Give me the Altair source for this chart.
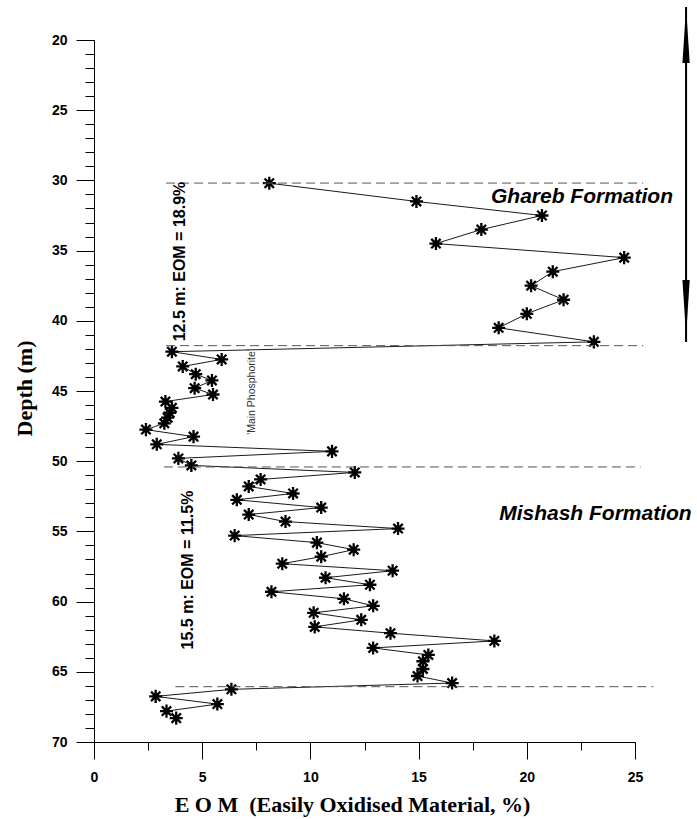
import altair as alt
import pandas as pd

# ---- data ----
depth = [30.2, 31.5, 32.5, 33.5, 34.5, 35.5, 36.5, 37.5, 38.5, 39.5, 40.5, 41.5,
         42.2, 42.75, 43.25, 43.8, 44.25, 44.8, 45.25, 45.75, 46.2, 46.55, 46.9, 47.3,
         47.75, 48.25, 48.8, 49.3, 49.8, 50.3, 50.8, 51.3, 51.8, 52.3, 52.75, 53.3,
         53.8, 54.3, 54.8, 55.3, 55.8, 56.3, 56.8, 57.3, 57.8, 58.3, 58.8, 59.3,
         59.8, 60.3, 60.8, 61.3, 61.8, 62.25, 62.8, 63.3, 63.8, 64.25, 64.8, 65.3,
         65.8, 66.25, 66.75, 67.3, 67.8, 68.3]
eom = [8.1, 14.9, 20.7, 17.9, 15.8, 24.5, 21.2, 20.2, 21.7, 20.0, 18.7, 23.1,
       3.6, 5.9, 4.1, 4.7, 5.45, 4.65, 5.5, 3.3, 3.6, 3.5, 3.4, 3.25,
       2.4, 4.6, 2.9, 11.0, 3.9, 4.5, 12.05, 7.7, 7.15, 9.2, 6.6, 10.5,
       7.15, 8.85, 14.05, 6.5, 10.3, 12.0, 10.5, 8.7, 13.8, 10.7, 12.75, 8.2,
       11.55, 12.9, 10.15, 12.35, 10.2, 13.7, 18.5, 12.9, 15.45, 15.2, 15.2, 14.95,
       16.55, 6.35, 2.85, 5.7, 3.35, 3.8]

# formation boundaries (dashed lines)
bound_depth = [30.19, 41.77, 50.41, 66.06]
bound_x0 = [3.33, 3.33, 3.23, 3.76]
bound_x1 = [25.38, 25.38, 25.26, 25.85]

# annotations
form_names = ["Ghareb Formation", "Mishash Formation"]
form_x = [22.55, 23.17]
form_y = [31.18, 53.76]

avg_texts = ["12.5 m: EOM = 18.9%", "15.5 m: EOM = 11.5%"]
avg_x = [3.97, 4.34]
avg_y = [35.78, 57.75]

note_text = ["'Main Phosphorite'"]
note_x = [7.30]
note_y = [45.07]

# double-headed arrow at right
arrow_x = [27.36]
arrow_top = [17.65]
arrow_bottom = [41.51]
head_up_y = [19.64]
head_down_y = [39.09]

x_ticks = [0, 5, 10, 15, 20, 25]
x_minor = [0, 2.5, 5, 7.5, 10, 12.5, 15, 17.5, 20, 22.5, 25]
y_ticks = [20, 25, 30, 35, 40, 45, 50, 55, 60, 65, 70]
y_minor = list(range(20, 71))

# ---- frames ----
df = pd.DataFrame({"depth": depth, "eom": eom, "idx": list(range(len(depth)))})
bounds = pd.DataFrame({"d": bound_depth, "x0": bound_x0, "x1": bound_x1})
forms = pd.DataFrame({"t": form_names, "x": form_x, "y": form_y})
avgs = pd.DataFrame({"t": avg_texts, "x": avg_x, "y": avg_y})
notes = pd.DataFrame({"t": note_text, "x": note_x, "y": note_y})
arrow = pd.DataFrame({"x": arrow_x, "y0": arrow_top, "y1": arrow_bottom})
head_up = pd.DataFrame({"x": arrow_x, "y": head_up_y})
head_down = pd.DataFrame({"x": arrow_x, "y": head_down_y})

xs = alt.Scale(domain=[0, 25], nice=False, zero=False)
ys = alt.Scale(domain=[20, 70], nice=False, zero=False, reverse=True)

LAB = "Liberation Sans"
SER = "Liberation Serif"

x_major = alt.Axis(values=x_ticks, tickSize=17, tickColor="black", tickWidth=1,
                   domainColor="black", domainWidth=1, grid=False,
                   labelFont=LAB, labelFontSize=14, labelFontWeight="bold",
                   labelColor="black", labelPadding=11, labelFlush=False,
                   title="E O M\u00a0\u00a0(Easily Oxidised Material, %)",
                   titleFont=SER, titleFontSize=22, titleFontWeight="bold",
                   titleColor="black", titleX=258, titleY=69,
                   titleAlign="center", titleBaseline="alphabetic")
y_major = alt.Axis(values=y_ticks, tickSize=18, tickColor="black", tickWidth=1,
                   domainColor="black", domainWidth=1, grid=False,
                   labelFont=LAB, labelFontSize=14, labelFontWeight="bold",
                   labelColor="black", labelPadding=9, labelFlush=False,
                   title="Depth (m)", titleFont=SER, titleFontSize=22,
                   titleFontWeight="bold", titleColor="black", titleAngle=270,
                   titleX=-63, titleY=348, titleAlign="center",
                   titleBaseline="alphabetic")
x_min_ax = alt.Axis(values=x_minor, tickSize=8, tickColor="black", tickWidth=1,
                    domain=False, labels=False, grid=False, title=None,
                    orient="bottom")
y_min_ax = alt.Axis(values=y_minor, tickSize=9, tickColor="black", tickWidth=1,
                    domain=False, labels=False, grid=False, title=None,
                    orient="left")

line = alt.Chart(df).mark_line(color="black", strokeWidth=0.9).encode(
    x=alt.X("eom:Q", scale=xs, axis=x_major),
    y=alt.Y("depth:Q", scale=ys, axis=y_major),
    order="idx:Q",
)

star = "M-1,0L1,0M0,-1L0,1M-0.72,-0.72L0.72,0.72M-0.72,0.72L0.72,-0.72"
points = alt.Chart(df).mark_point(shape=star, size=170, filled=False,
                                  stroke="black", strokeWidth=2.3,
                                  opacity=1).encode(
    x=alt.X("eom:Q", scale=xs, axis=x_min_ax),
    y=alt.Y("depth:Q", scale=ys, axis=y_min_ax),
)

dashes = alt.Chart(bounds).mark_rule(color="#555555", strokeWidth=1,
                                     strokeDash=[9, 5]).encode(
    x=alt.X("x0:Q", scale=xs, axis=None),
    x2="x1:Q",
    y=alt.Y("d:Q", scale=ys, axis=None),
)

form_text = alt.Chart(forms).mark_text(font=LAB, fontSize=21, fontWeight="bold",
                                       fontStyle="italic", color="black",
                                       align="center", baseline="middle").encode(
    x=alt.X("x:Q", scale=xs, axis=None),
    y=alt.Y("y:Q", scale=ys, axis=None),
    text="t:N",
)

avg_text = alt.Chart(avgs).mark_text(font=LAB, fontSize=16, fontWeight="bold",
                                     color="black", angle=270, align="center",
                                     baseline="middle").encode(
    x=alt.X("x:Q", scale=xs, axis=None),
    y=alt.Y("y:Q", scale=ys, axis=None),
    text="t:N",
)

note = alt.Chart(notes).mark_text(font=LAB, fontSize=10.5, color="#333333",
                                  angle=270, align="center",
                                  baseline="middle").encode(
    x=alt.X("x:Q", scale=xs, axis=None),
    y=alt.Y("y:Q", scale=ys, axis=None),
    text="t:N",
)

arrow_line = alt.Chart(arrow).mark_rule(color="black", strokeWidth=2).encode(
    x=alt.X("x:Q", scale=xs, axis=None),
    y=alt.Y("y0:Q", scale=ys, axis=None),
    y2="y1:Q",
)

up_path = "M0,-1L0.13,1L-0.13,1Z"
down_path = "M0,1L0.13,-1L-0.13,-1Z"
head1 = alt.Chart(head_up).mark_point(shape=up_path, size=3136, filled=True,
                                      color="black", opacity=1).encode(
    x=alt.X("x:Q", scale=xs, axis=None),
    y=alt.Y("y:Q", scale=ys, axis=None),
)
head2 = alt.Chart(head_down).mark_point(shape=down_path, size=3136, filled=True,
                                        color="black", opacity=1).encode(
    x=alt.X("x:Q", scale=xs, axis=None),
    y=alt.Y("y:Q", scale=ys, axis=None),
)

chart = alt.layer(
    line, points, dashes, form_text, avg_text, note, arrow_line, head1, head2
).resolve_axis(x="independent", y="independent").properties(
    width=541, height=702,
    autosize=alt.AutoSizeParams(type="none"),
    padding={"left": 94, "top": 40, "right": 62, "bottom": 77},
    background="white",
).configure_view(stroke=None)

chart.save("out.html", embed_options={"renderer": "svg", "actions": False})
